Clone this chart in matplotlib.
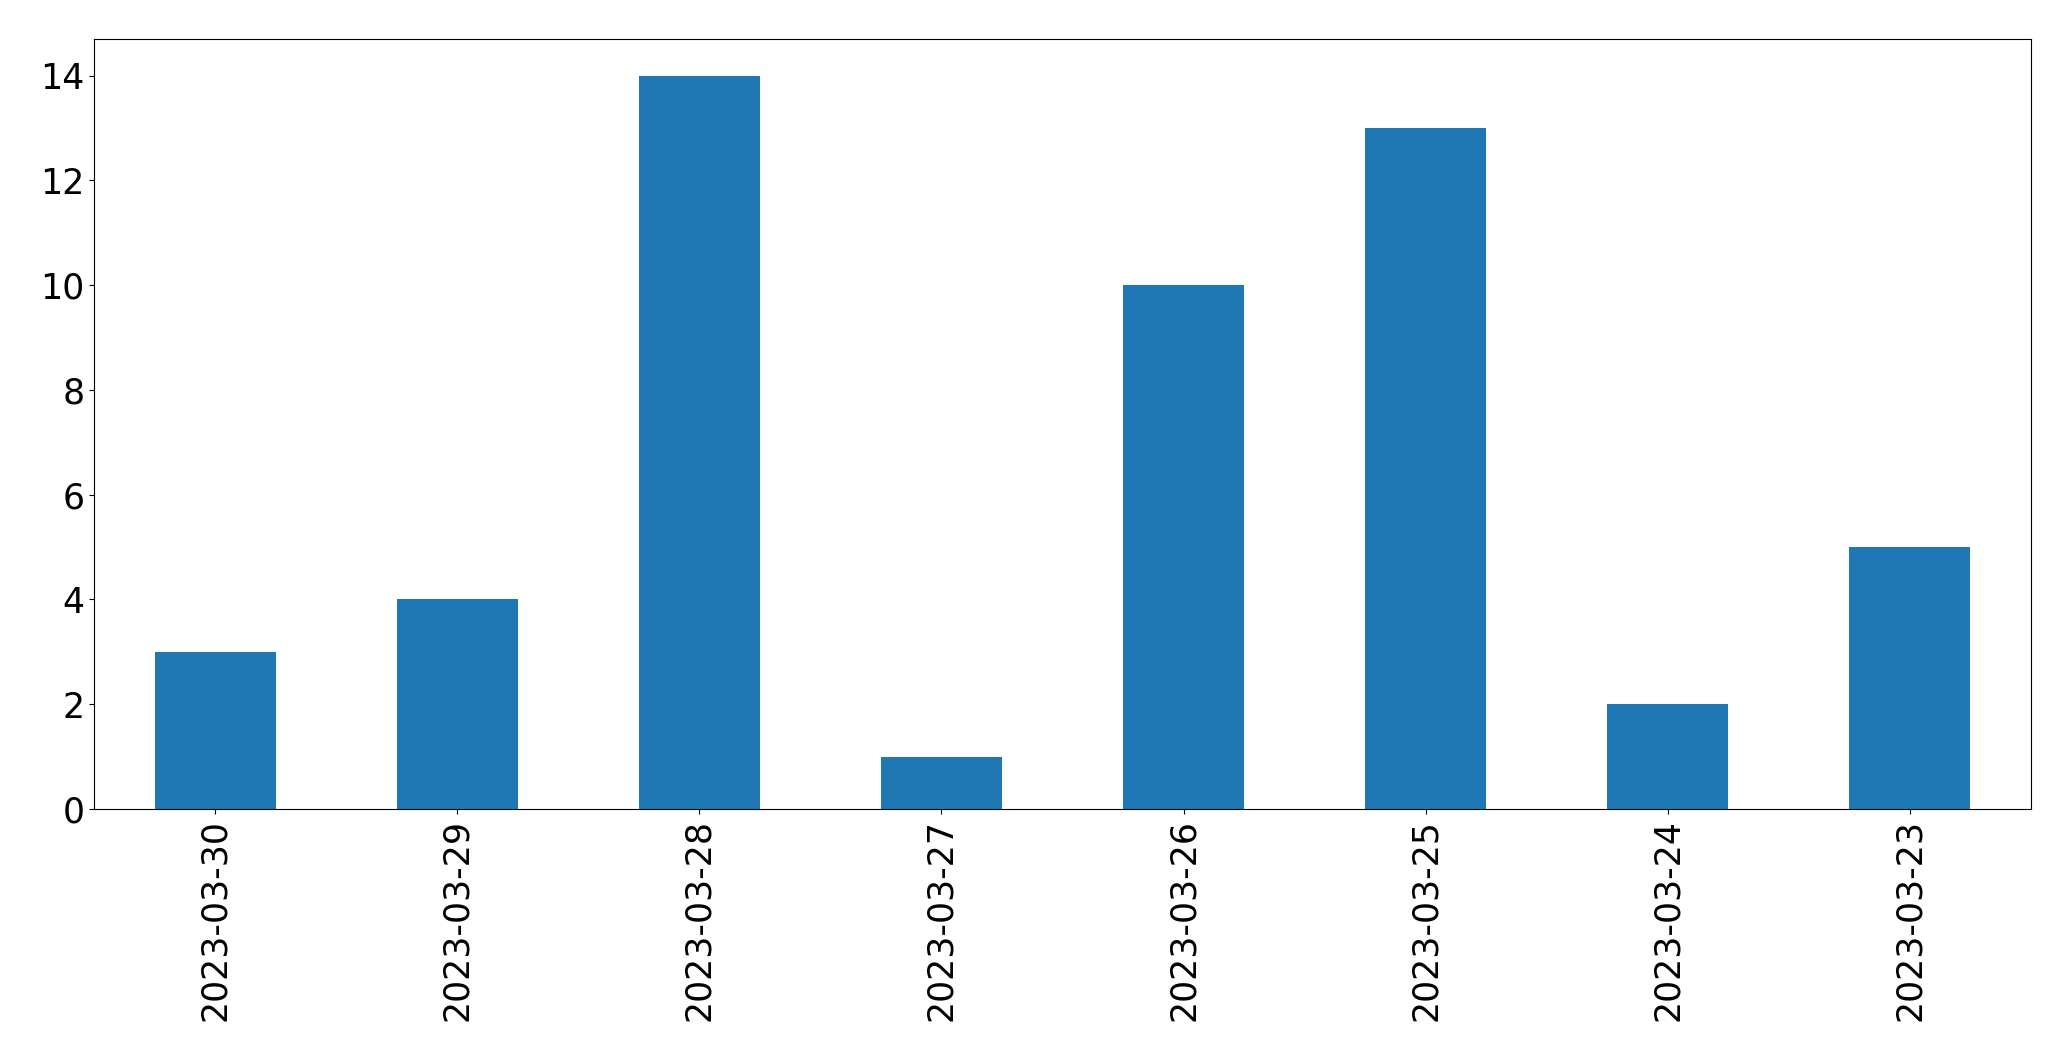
import matplotlib
matplotlib.use("Agg")
import matplotlib.pyplot as plt
import numpy as np

# data
dates = ["2023-03-30", "2023-03-29", "2023-03-28", "2023-03-27",
         "2023-03-26", "2023-03-25", "2023-03-24", "2023-03-23"]
counts = [3, 4, 14, 1, 10, 13, 2, 5]

fig = plt.figure(figsize=(20.71, 10.61), dpi=100)
ax = fig.add_axes([0.0454, 0.2375, 0.9353, 0.7257])

x = np.arange(len(dates))
ax.bar(x, counts, width=0.5, color="#1f77b4")
ax.set_xlim(-0.5, len(dates) - 0.5)
ax.set_xticks(x)
ax.set_xticklabels(dates, rotation=90)
ax.tick_params(axis="both", labelsize=25)

fig.savefig("out.png", dpi=100)
